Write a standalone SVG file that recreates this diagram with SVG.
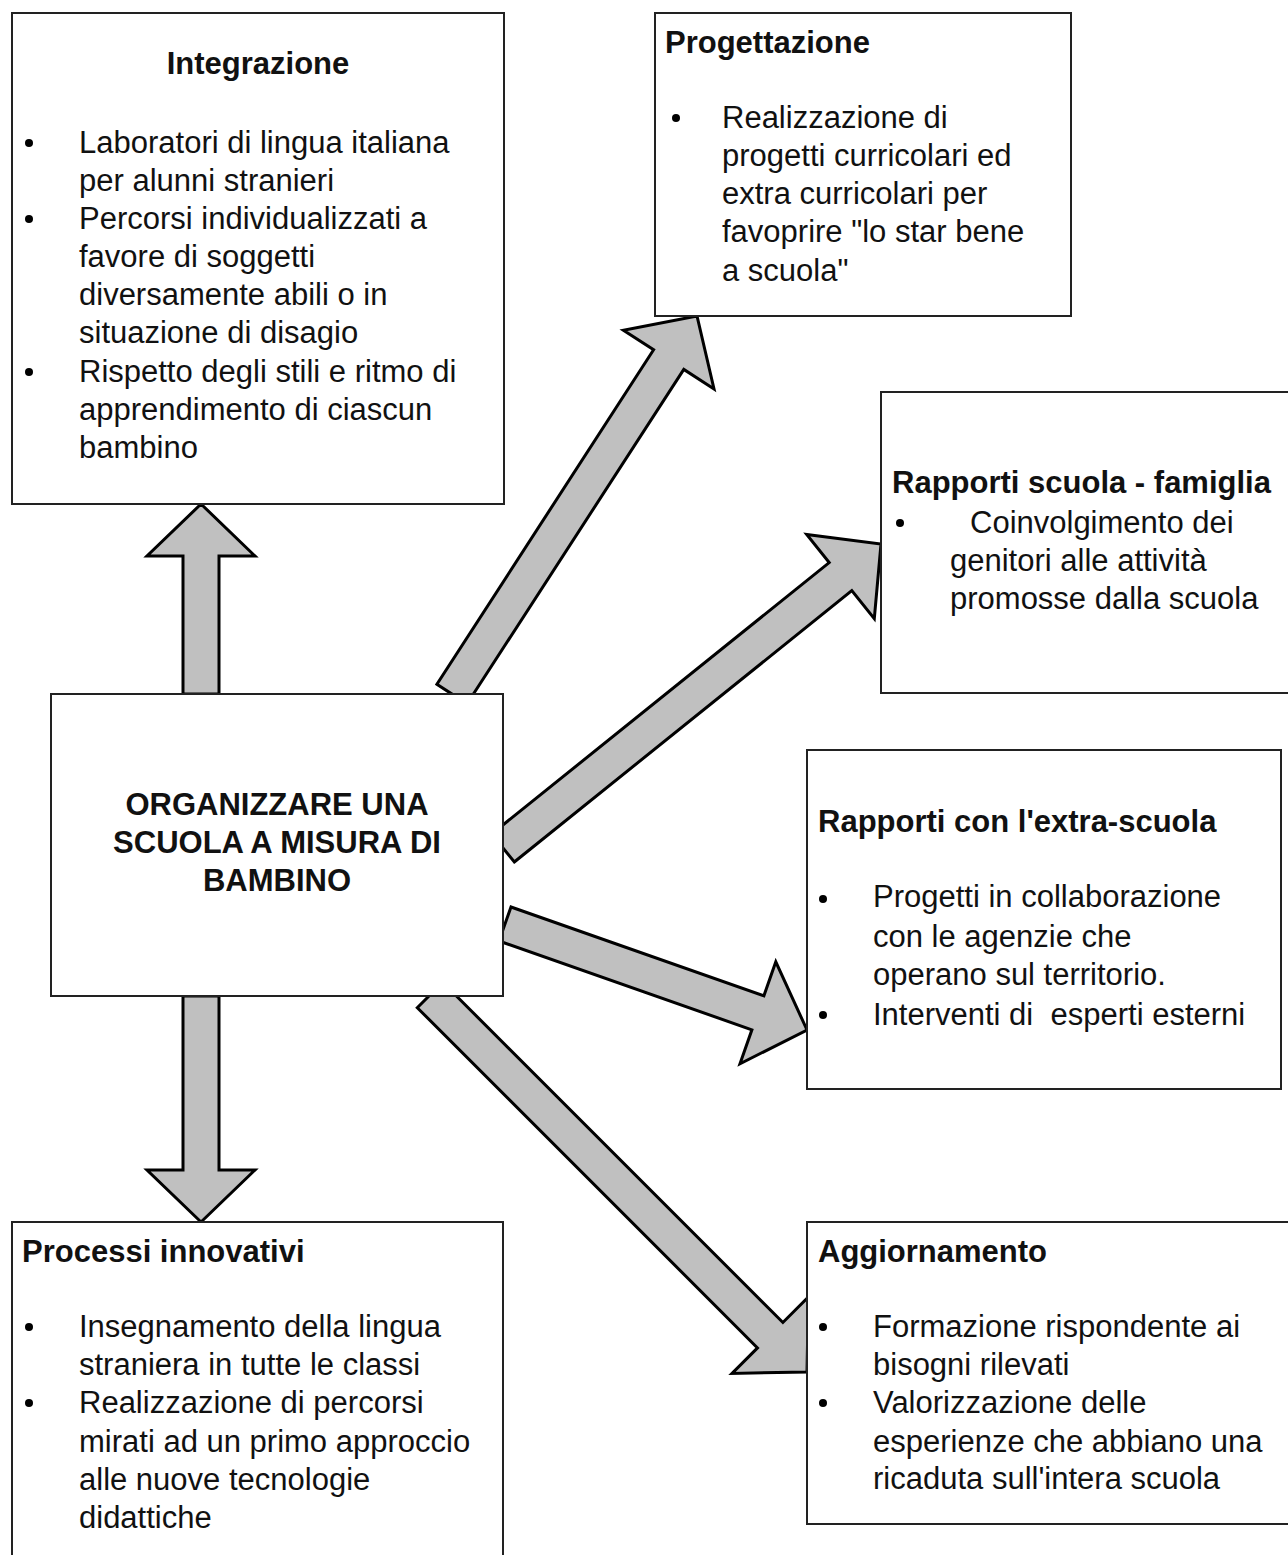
<svg xmlns="http://www.w3.org/2000/svg" width="1288" height="1555" viewBox="0 0 1288 1555">
<style>
.box{fill:#fff;stroke:#222;stroke-width:2}
.arr{fill:#c0c0c0;stroke:#000;stroke-width:3;stroke-linejoin:miter}
.t{font-family:"Liberation Sans",Arial,sans-serif;font-size:31px;fill:#111}
.h{font-family:"Liberation Sans",Arial,sans-serif;font-size:31px;font-weight:bold;fill:#111}
.c{font-family:"Liberation Sans",Arial,sans-serif;font-size:31px;font-weight:bold;fill:#111;text-anchor:middle}
.b{fill:#000}
</style>
<rect width="1288" height="1555" fill="#fff"/>
<g id="connectors">
<polygon class="arr" points="219,694 219,556 255,556 201,504 147,556 183,556 183,694"/>
<polygon class="arr" points="183,996 183,1170 147,1170 201,1222 255,1170 219,1170 219,996"/>
<polygon class="arr" points="467.1,703.8 683.8,369.4 714,389 697,316 623.4,330.2 653.6,349.8 436.9,684.2"/>
<polygon class="arr" points="514.3,862 851.8,590.6 874.3,618.7 881,544 806.7,534.5 829.2,562.6 491.7,834"/>
<polygon class="arr" points="499,941 751.9,1029.8 740,1063.8 807,1030 775.8,961.8 763.9,995.8 511,907"/>
<polygon class="arr" points="417.3,1007.7 757.5,1347.9 732,1373.4 807,1372 808.4,1297 782.9,1322.5 442.7,982.3"/>
</g>
<g id="integrazione">
<rect class="box" x="12" y="13" width="492" height="491"/>
<text class="h" x="258" y="74" text-anchor="middle">Integrazione</text>
<circle class="b" cx="29" cy="143" r="4"/>
<circle class="b" cx="29" cy="219" r="4"/>
<circle class="b" cx="29" cy="372" r="4"/>
<text class="t" x="79" y="153">Laboratori di lingua italiana</text>
<text class="t" x="79" y="191">per alunni stranieri</text>
<text class="t" x="79" y="229">Percorsi individualizzati a</text>
<text class="t" x="79" y="267">favore di soggetti</text>
<text class="t" x="79" y="305">diversamente abili o in</text>
<text class="t" x="79" y="343">situazione di disagio</text>
<text class="t" x="79" y="382">Rispetto degli stili e ritmo di</text>
<text class="t" x="79" y="420">apprendimento di ciascun</text>
<text class="t" x="79" y="458">bambino</text>
</g>
<g id="progettazione">
<rect class="box" x="655" y="13" width="416" height="303"/>
<text class="h" x="665" y="53">Progettazione</text>
<circle class="b" cx="676" cy="118" r="4"/>
<text class="t" x="722" y="128">Realizzazione di</text>
<text class="t" x="722" y="166">progetti curricolari ed</text>
<text class="t" x="722" y="204">extra curricolari per</text>
<text class="t" x="722" y="242">favoprire "lo star bene</text>
<text class="t" x="722" y="281">a scuola"</text>
</g>
<g id="famiglia">
<rect class="box" x="881" y="392" width="420" height="301"/>
<text class="h" x="892" y="493">Rapporti scuola - famiglia</text>
<circle class="b" cx="900" cy="523" r="4"/>
<text class="t" x="970" y="533">Coinvolgimento dei</text>
<text class="t" x="950" y="571">genitori alle attività</text>
<text class="t" x="950" y="609">promosse dalla scuola</text>
</g>
<g id="centrale">
<rect class="box" x="51" y="694" width="452" height="302"/>
<text class="c" x="277" y="815">ORGANIZZARE UNA</text>
<text class="c" x="277" y="853">SCUOLA A MISURA DI</text>
<text class="c" x="277" y="891">BAMBINO</text>
</g>
<g id="extrascuola">
<rect class="box" x="807" y="750" width="474" height="339"/>
<text class="h" x="818" y="832">Rapporti con l'extra-scuola</text>
<circle class="b" cx="823" cy="899" r="4"/>
<circle class="b" cx="823" cy="1015" r="4"/>
<text class="t" x="873" y="907">Progetti in collaborazione</text>
<text class="t" x="873" y="947">con le agenzie che</text>
<text class="t" x="873" y="985">operano sul territorio.</text>
<text class="t" x="873" y="1025" xml:space="preserve">Interventi di  esperti esterni</text>
</g>
<g id="processi">
<rect class="box" x="12" y="1222" width="491" height="345"/>
<text class="h" x="22" y="1262">Processi innovativi</text>
<circle class="b" cx="29" cy="1327" r="4"/>
<circle class="b" cx="29" cy="1403" r="4"/>
<text class="t" x="79" y="1337">Insegnamento della lingua</text>
<text class="t" x="79" y="1375">straniera in tutte le classi</text>
<text class="t" x="79" y="1413">Realizzazione di percorsi</text>
<text class="t" x="79" y="1452">mirati ad un primo approccio</text>
<text class="t" x="79" y="1490">alle nuove tecnologie</text>
<text class="t" x="79" y="1528">didattiche</text>
</g>
<g id="aggiornamento">
<rect class="box" x="807" y="1222" width="495" height="302"/>
<text class="h" x="818" y="1262">Aggiornamento</text>
<circle class="b" cx="823" cy="1327" r="4"/>
<circle class="b" cx="823" cy="1403" r="4"/>
<text class="t" x="873" y="1337">Formazione rispondente ai</text>
<text class="t" x="873" y="1375">bisogni rilevati</text>
<text class="t" x="873" y="1413">Valorizzazione delle</text>
<text class="t" x="873" y="1452">esperienze che abbiano una</text>
<text class="t" x="873" y="1489">ricaduta sull'intera scuola</text>
</g>
</svg>
